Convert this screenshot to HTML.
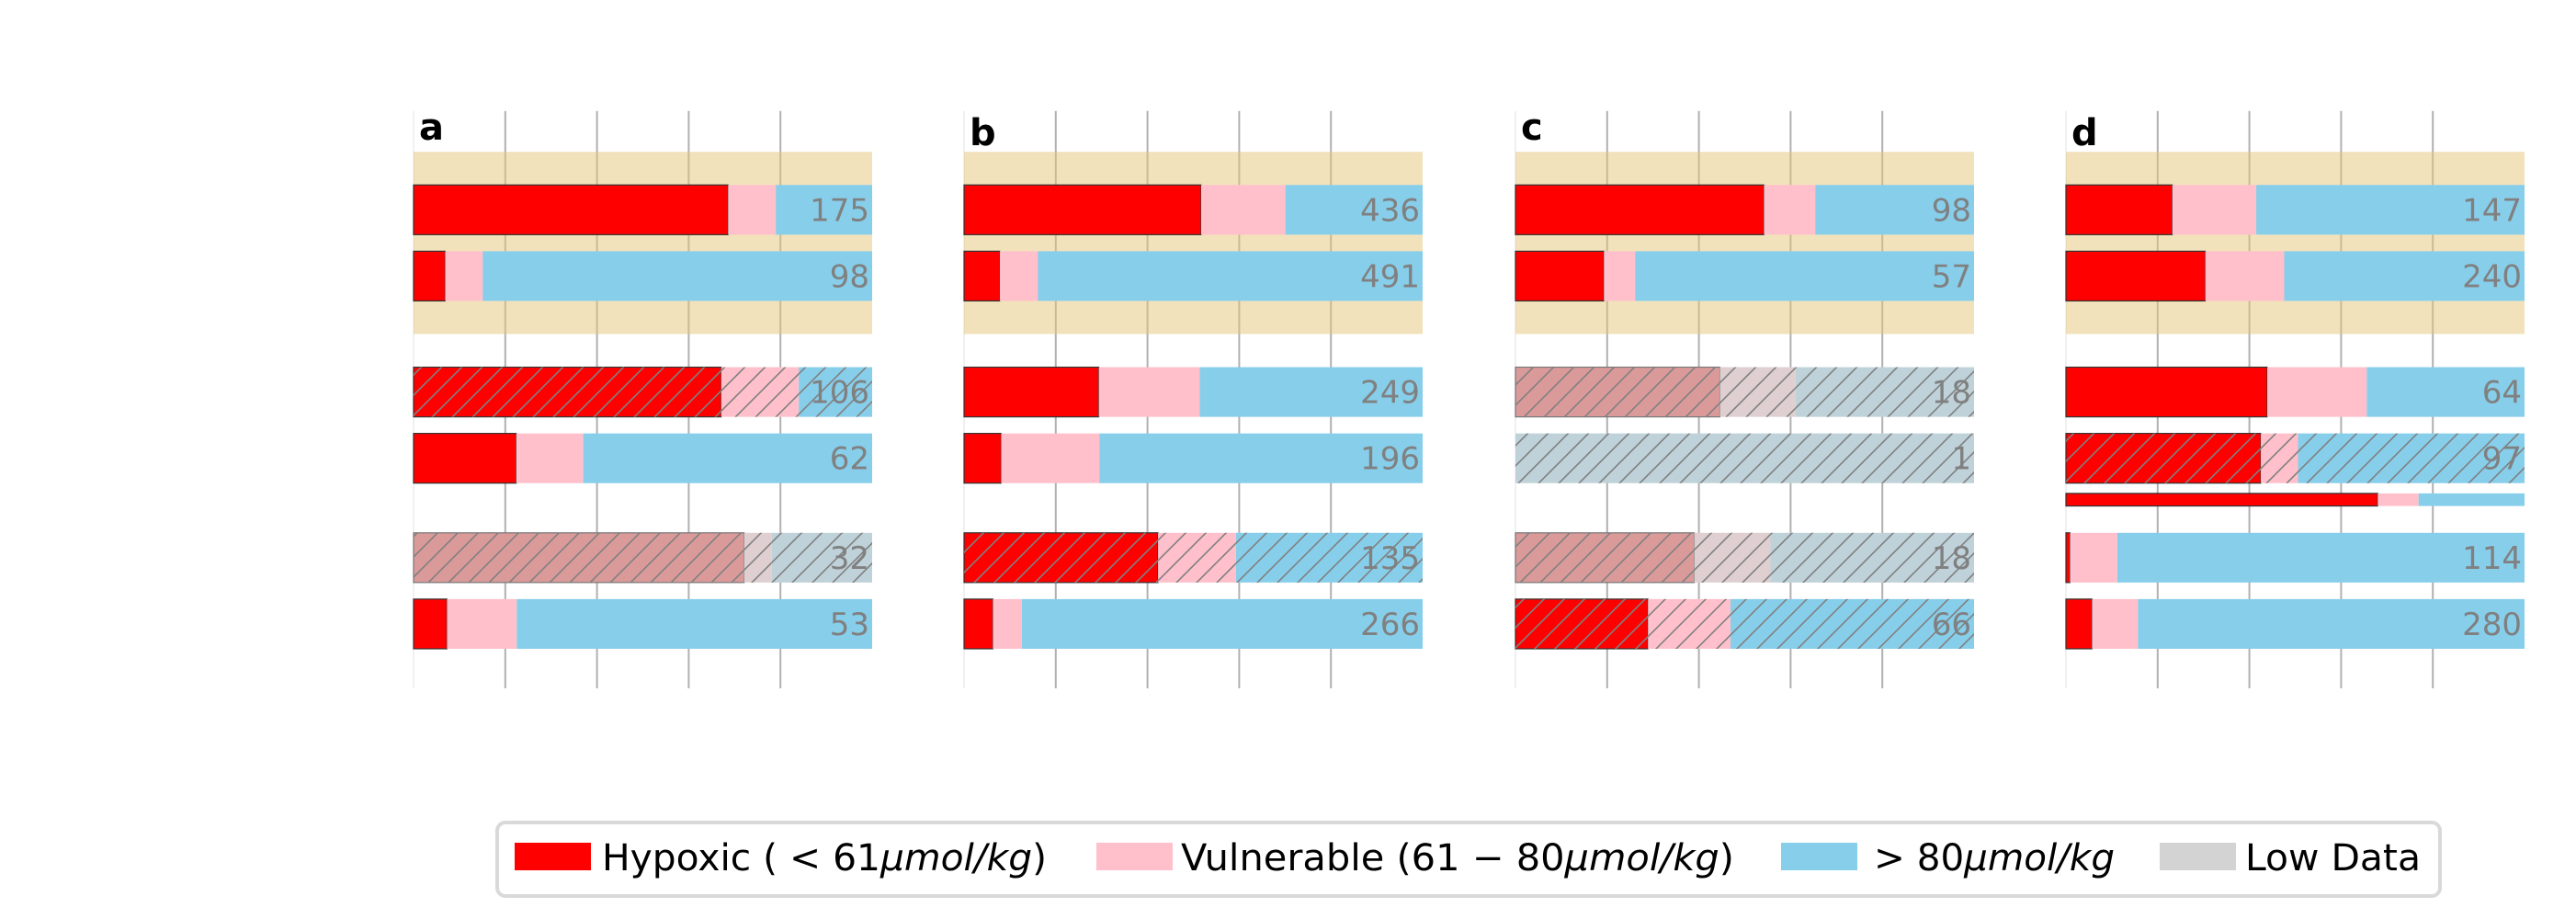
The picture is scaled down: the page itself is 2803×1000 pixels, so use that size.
<!DOCTYPE html>
<html><head><meta charset="utf-8"><style>
html,body{margin:0;padding:0;background:#fff;}
svg{display:block;font-family:"DejaVu Sans","Liberation Sans",sans-serif;}
</style></head><body>
<svg id="chart" width="2803" height="1000" viewBox="0 0 2803 1000" xmlns="http://www.w3.org/2000/svg">
<defs>
<pattern id="hatch" patternUnits="userSpaceOnUse" width="22" height="22">
<path d="M-2,24 L24,-2 M-13,13 L13,-13 M9,35 L35,9" stroke="#808080" stroke-width="1.6" fill="none"/>
</pattern>
</defs>
<g id="panels"></g>
<g>
<rect x="541" y="895" width="2114" height="80" rx="9" fill="#fff" stroke="#d9d9d9" stroke-width="4"/>
<rect x="560" y="917" width="83" height="30" fill="#ff0000"/>
<text x="655" y="947" font-size="40" textLength="484" lengthAdjust="spacingAndGlyphs">Hypoxic ( &lt; 61<tspan font-style="italic">μmol/kg</tspan>)</text>
<rect x="1193" y="917" width="83" height="30" fill="#ffc0cb"/>
<text x="1285" y="947" font-size="40" textLength="602" lengthAdjust="spacingAndGlyphs">Vulnerable (61 − 80<tspan font-style="italic">μmol/kg</tspan>)</text>
<rect x="1938" y="917" width="83" height="30" fill="#87ceeb"/>
<text x="2039" y="947" font-size="40" textLength="262" lengthAdjust="spacingAndGlyphs">&gt; 80<tspan font-style="italic">μmol/kg</tspan></text>
<rect x="2350" y="917" width="83" height="30" fill="#d3d3d3"/>
<text x="2443" y="947" font-size="40" textLength="191" lengthAdjust="spacingAndGlyphs">Low Data</text>
</g>
</svg>
<script>
const panelLetters = ['a','b','c','d'];
const rowPositionsA = [0,1,2.75,3.75,5.25,6.25];
const rowPositionsD = [0,1,2.75,3.75,4.375,5.25,6.25];
const rowHeightsA = [0.75,0.75,0.75,0.75,0.75,0.75];
const rowHeightsD = [0.75,0.75,0.75,0.75,0.19,0.75,0.75];
const hypoxicA = [68.6,6.9,67.1,22.4,72.1,7.3];
const vulnerableA = [10.4,8.2,16.9,14.6,6.0,15.2];
const countsA = [175,98,106,62,32,53];
const styleA = ['n','n','h','n','l','n'];
const hypoxicB = [51.7,7.8,29.4,8.1,42.3,6.3];
const vulnerableB = [18.4,8.3,22.0,21.4,17.0,6.3];
const countsB = [436,491,249,196,135,266];
const styleB = ['n','n','n','n','h','n'];
const hypoxicC = [54.2,19.3,44.6,0,39.0,28.9];
const vulnerableC = [11.2,6.8,16.5,0,16.6,18.0];
const countsC = [98,57,18,1,18,66];
const styleC = ['n','n','l','l','l','h'];
const hypoxicD = [23.2,30.4,43.9,42.5,68.0,0.9,5.7];
const vulnerableD = [18.3,17.2,21.7,8.1,8.9,10.3,10.0];
const countsD = [147,240,64,97,null,114,280];
const styleD = ['n','n','n','h','n','n','n'];
const gridTicks = [20,40,60,80];
const bandRange = [-0.875,1.875];

const panels = [
 {hyp:hypoxicA,vul:vulnerableA,cnt:countsA,sty:styleA,pos:rowPositionsA,h:rowHeightsA},
 {hyp:hypoxicB,vul:vulnerableB,cnt:countsB,sty:styleB,pos:rowPositionsA,h:rowHeightsA},
 {hyp:hypoxicC,vul:vulnerableC,cnt:countsC,sty:styleC,pos:rowPositionsA,h:rowHeightsA},
 {hyp:hypoxicD,vul:vulnerableD,cnt:countsD,sty:styleD,pos:rowPositionsD,h:rowHeightsD}
];
const lefts = [450,1049,1649,2248];
const W = 499, TOP = 120.8, BOTTOM = 749;
const NS = 'http://www.w3.org/2000/svg';
const yS = v => 228.3 + 72.1*v;
function mk(tag, attrs, parent){
  const e = document.createElementNS(NS, tag);
  for (const k in attrs) e.setAttribute(k, attrs[k]);
  parent.appendChild(e);
  return e;
}
const root = document.getElementById('panels');
panels.forEach((p, pi) => {
  const L = lefts[pi];
  const xS = v => L + W*v/100;
  const g = mk('g', {}, root);
  
  
  const spine = mk('line', {x1:L, x2:L, y1:TOP, y2:BOTTOM, stroke:'#ebebeb', 'stroke-width':1.5}, g);
  
  
  gridTicks.forEach(t => {
    const gl = mk('line', {x1:xS(t), x2:xS(t), y1:TOP, y2:BOTTOM, stroke:'#b0b0b0', 'stroke-width':2}, g);
    
    
  });
  const band = mk('rect', {x:L, y:yS(bandRange[0]), width:W, height:yS(bandRange[1])-yS(bandRange[0]), fill:'#e6c67a', 'fill-opacity':0.5}, g);
  
  
  const lt = mk('text', {x:L+6, y:(pi%2===0)?152:158, 'font-size':40, 'font-weight':'bold', fill:'#000'}, g);
  lt.textContent = panelLetters[pi];
  
  
  p.hyp.forEach((hv, i) => {
    const s = p.sty[i];
    const low = s === 'l';
    const y0 = yS(p.pos[i] - p.h[i]/2), hh = 72.1*p.h[i];
    const cols = low ? ['#db9a9a','#dfcfd0','#bfd2d9'] : ['#ff0000','#ffc0cb','#87ceeb'];
    const vv = p.vul[i];
    const segs = [[0,hv],[hv,hv+vv],[hv+vv,100]];
    segs.forEach((sg, k) => {
      if (sg[1]-sg[0] <= 0) return;
      const r = mk('rect', {x:xS(sg[0]), y:y0, width:xS(sg[1])-xS(sg[0]), height:hh, fill:cols[k]}, g);
      if (k===0) { r.setAttribute('stroke', low ? '#777' : '#333'); r.setAttribute('stroke-width', 1.2); }
      
      
      if (s !== 'n') {
        const hr = mk('rect', {x:xS(sg[0]), y:y0, width:xS(sg[1])-xS(sg[0]), height:hh, fill:'url(#hatch)'}, g);
        
        
      }
    });
    if (p.cnt[i] !== null) {
      const t = mk('text', {x:L+W-3, y:yS(p.pos[i])+12, 'font-size':34, fill:'#808080', 'text-anchor':'end'}, g);
      t.textContent = p.cnt[i];
      
      
    }
  });
});
</script>
</body></html>
